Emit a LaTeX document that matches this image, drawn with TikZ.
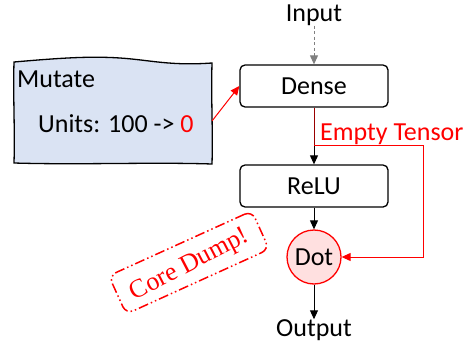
\documentclass[tikz,border=0pt]{standalone}
\usepackage{fontspec}
\setmainfont{Carlito}
\newfontfamily\cdfont{Liberation Serif}
\usetikzlibrary{arrows.meta}
\definecolor{mutfill}{HTML}{DAE3F3}
\definecolor{dotfill}{HTML}{FFE0E0}
\tikzset{
  opbox/.style={draw=black, line width=1.3pt, rounded corners=5pt, minimum width=148pt, minimum height=42pt, font=\fontsize{26}{30}\selectfont, inner sep=0pt},
  lbl/.style={font=\fontsize{26}{30}\selectfont, inner sep=0pt},
  conn/.style={line width=1pt, -{Triangle[width=8pt,length=9pt]}},
  redconn/.style={draw=red, line width=1pt, -{Triangle[width=8pt,length=9pt]}},
}
\begin{document}
\begin{tikzpicture}[x=1pt,y=-1pt]
\useasboundingbox (0,0) rectangle (468,348);
% Mutate sketchy box
\draw[line width=1.3pt, fill=mutfill]
  (14,62) .. controls (60,58) and (90,56) .. (120,58)
  .. controls (150,60) and (170,66) .. (212,63)
  .. controls (211,100) and (213,130) .. (212,164)
  .. controls (150,162) and (80,165) .. (14,163)
  .. controls (15,130) and (13,95) .. (14,62) -- cycle;
\node[lbl, anchor=base west] (mut) at (17,87) {Mutate};
\node[lbl, anchor=base west] (units) at (38,132) {Units: 100 -> \textcolor{red}{0}};
\coordinate (mutout) at (212,121);
% nodes
\node[lbl] (input) at (314,15) {Input};
\node[opbox] (dense) at (314,86) {Dense};
\node[opbox] (relu) at (314,186) {ReLU};
\node[circle, draw=red, line width=1.3pt, fill=dotfill, minimum size=54pt, inner sep=0pt, font=\fontsize{26}{30}\selectfont] (dot) at (314,257) {Dot};
\node[lbl] (output) at (314,330) {Output};
% connectors
\draw[conn, draw=gray, dash pattern=on 3pt off 2.5pt] (input) -- (dense);
\draw[conn] (dense) -- (relu);
\draw[conn] (dot) -- (output);
\draw[conn] (relu) -- (dot);
\coordinate (j) at (314,145);
\coordinate (r1) at (423,145);
\coordinate (r2) at (423,257);
\draw[draw=red, line width=1pt, opacity=0.6] (dense.south) -- (j);
\draw[redconn] (j) -- (r1) -- (r2) -- (dot.east);
\draw[redconn] (mutout) -- (dense.west);
\node[lbl, text=red, anchor=base west] (empty) at (320,140) {Empty Tensor};
% Core dump
\node[draw=red, line width=1.5pt, rounded corners=8pt, dash pattern=on 10pt off 3pt on 1.5pt off 3pt on 1.5pt off 3pt,
  rotate=24.4, minimum width=157pt, minimum height=42pt, inner sep=0pt] (core) at (189,262.5) {};
\node[text=red, font=\cdfont\fontsize{26}{30}\selectfont, inner sep=0pt, rotate=27.5] (coretxt) at (190,265) {Core Dump!};
\end{tikzpicture}
\end{document}
